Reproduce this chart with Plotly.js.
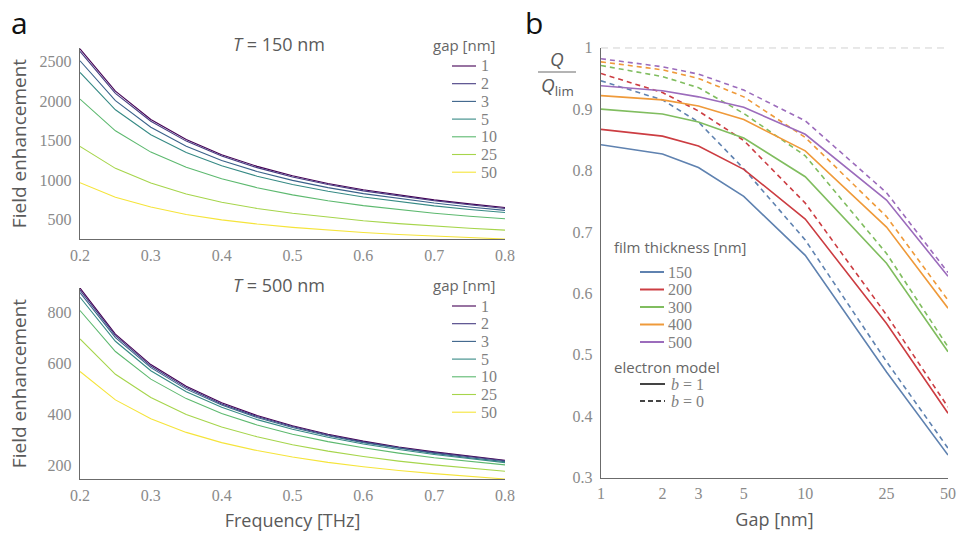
<!DOCTYPE html>
<html><head><meta charset="utf-8">
<script src="https://cdn.plot.ly/plotly-3.0.1.min.js"></script>
<style>html,body{margin:0;padding:0;background:#fff}#chart{width:957px;height:533px}</style>
</head><body><div id="chart"></div>
<script>
// ---------- data ----------
const freq = [0.2,0.25,0.3,0.35,0.4,0.45,0.5,0.55,0.6,0.65,0.7,0.75,0.8];
const gapLabels = ["1","2","3","5","10","25","50"];
const gapColors = ["#440154","#463b81","#3a628a","#368a85","#5db96f","#a6d54b","#f5e43a"];

// T = 150 nm field enhancement
const t150_g1  = [2660,2125,1768,1514,1323,1175,1056,959,879,811,752,701,656];
const t150_g2  = [2626,2097,1745,1494,1305,1159,1041,946,866,799,741,691,643];
const t150_g3  = [2509,2005,1670,1430,1250,1110,998,907,831,767,712,663,620];
const t150_g5  = [2361,1890,1575,1350,1182,1051,946,860,789,728,676,631,593];
const t150_g10 = [2025,1624,1355,1163,1018,906,815,742,680,628,584,545,513];
const t150_g25 = [1427,1150,964,826,723,644,584,532,488,452,420,393,370];
const t150_g50 = [968,785,661,568,500,447,405,370,340,315,293,274,258];

// T = 500 nm field enhancement
const t500_g1  = [894,714,595,510,446,396,356,323,296,273,254,237,221];
const t500_g2  = [886,708,589,505,441,392,353,320,293,270,251,234,219];
const t500_g3  = [876,700,583,499,437,388,349,317,290,268,248,231,216];
const t500_g5  = [858,686,571,489,428,380,342,311,285,263,244,227,212];
const t500_g10 = [806,646,538,462,404,359,323,294,270,249,231,216,203];
const t500_g25 = [695,557,466,400,351,313,282,257,236,218,203,190,178];
const t500_g50 = [568,457,383,330,290,259,234,213,196,181,169,158,148];

// Q / Q_lim vs gap
const gapNm = [1,2,3,5,10,25,50];
const thickLabels = ["150","200","300","400","500"];
const thickColors = ["#5f82b0","#cc3d42","#80bd5f","#ef9a3a","#9c6cbc"];
const b1_150 = [0.842,0.827,0.805,0.758,0.662,0.472,0.337];
const b1_200 = [0.867,0.856,0.840,0.802,0.721,0.551,0.405];
const b1_300 = [0.900,0.892,0.879,0.853,0.790,0.649,0.505];
const b1_400 = [0.922,0.915,0.905,0.883,0.832,0.708,0.576];
const b1_500 = [0.938,0.930,0.920,0.903,0.859,0.752,0.628];
const b0_150 = [0.946,0.915,0.879,0.803,0.687,0.489,0.348];
const b0_200 = [0.958,0.927,0.897,0.849,0.747,0.565,0.415];
const b0_300 = [0.971,0.953,0.935,0.893,0.824,0.665,0.513];
const b0_400 = [0.977,0.964,0.950,0.920,0.854,0.725,0.589];
const b0_500 = [0.982,0.969,0.957,0.931,0.881,0.764,0.634];
const qLimit = [1,1];
const qLimitX = [1,50];

// ---------- helpers ----------
const W = 957, H = 533;
const px = x => x / W;
const py = y => 1 - y / H;
const tickFont = {family: "Liberation Serif", size: 16, color: "#8a8a8a"};
const sansFont = (s, c) => ({family: "Open Sans", size: s, color: c || "#5a5a5a"});

const t150 = [t150_g1,t150_g2,t150_g3,t150_g5,t150_g10,t150_g25,t150_g50];
const t500 = [t500_g1,t500_g2,t500_g3,t500_g5,t500_g10,t500_g25,t500_g50];
const b1 = [b1_150,b1_200,b1_300,b1_400,b1_500];
const b0 = [b0_150,b0_200,b0_300,b0_400,b0_500];

const traces = [];
t150.forEach((ys, i) => traces.push({x: freq, y: ys, xaxis: "x", yaxis: "y", mode: "lines",
  line: {color: gapColors[i], width: 1.1}, name: gapLabels[i], showlegend: false}));
t500.forEach((ys, i) => traces.push({x: freq, y: ys, xaxis: "x2", yaxis: "y2", mode: "lines",
  line: {color: gapColors[i], width: 1.1}, name: gapLabels[i], showlegend: false}));
traces.push({x: qLimitX, y: qLimit, xaxis: "x3", yaxis: "y3", mode: "lines",
  line: {color: "#8c8c8c", width: 1, dash: "7px,5px"}, showlegend: false, name: "limit"});
b0.forEach((ys, i) => traces.push({x: gapNm, y: ys, xaxis: "x3", yaxis: "y3", mode: "lines",
  line: {color: thickColors[i], width: 1.6, dash: "5px,4px"}, name: thickLabels[i] + " b=0", showlegend: false}));
b1.forEach((ys, i) => traces.push({x: gapNm, y: ys, xaxis: "x3", yaxis: "y3", mode: "lines",
  line: {color: thickColors[i], width: 1.6}, name: thickLabels[i] + " b=1", showlegend: false}));

const baseAxis = {showline: true, linecolor: "#6b6b6b", linewidth: 1.3, ticks: "", showgrid: false,
  zeroline: false, tickfont: tickFont, fixedrange: true};

const freqTicks = [0.2,0.3,0.4,0.5,0.6,0.7,0.8];

const layout = {
  width: W, height: H, margin: {l: 0, r: 0, t: 0, b: 0},
  paper_bgcolor: "#fff", plot_bgcolor: "#fff", showlegend: false,
  xaxis: Object.assign({}, baseAxis, {domain: [px(80), px(505)], range: [0.2, 0.8], anchor: "y",
    tickvals: freqTicks, ticktext: freqTicks.map(v => v.toFixed(1)), ticklabelstandoff: 1}),
  yaxis: Object.assign({}, baseAxis, {domain: [py(239), py(48)], range: [258, 2670], anchor: "x",
    tickvals: [500,1000,1500,2000,2500], ticklabelstandoff: 4,
    title: {text: "Field enhancement", font: sansFont(19), standoff: 8}}),
  xaxis2: Object.assign({}, baseAxis, {domain: [px(80), px(505)], range: [0.2, 0.8], anchor: "y2",
    tickvals: freqTicks, ticktext: freqTicks.map(v => v.toFixed(1)), ticklabelstandoff: 1,
    title: {text: "Frequency [THz]", font: sansFont(18), standoff: 12}}),
  yaxis2: Object.assign({}, baseAxis, {domain: [py(479), py(288)], range: [148, 894], anchor: "x2",
    tickvals: [200,400,600,800], ticklabelstandoff: 4,
    title: {text: "Field enhancement", font: sansFont(19), standoff: 16}}),
  xaxis3: Object.assign({}, baseAxis, {domain: [px(601), px(948)], type: "log", range: [0, Math.log10(50)],
    anchor: "y3", tickvals: gapNm, ticktext: gapNm.map(String), ticklabelstandoff: 1,
    title: {text: "Gap [nm]", font: sansFont(18), standoff: 12}}),
  yaxis3: Object.assign({}, baseAxis, {domain: [py(477.7), py(47.7)], range: [0.3, 1.0], anchor: "x3",
    tickvals: [0.3,0.4,0.5,0.6,0.7,0.8,0.9,1.0], ticktext: ["0.3","0.4","0.5","0.6","0.7","0.8","0.9","1"],
    ticklabelstandoff: 4}),
  annotations: [],
  shapes: []
};

const ann = (text, x, y, font, xanchor, extra) => layout.annotations.push(Object.assign({
  text: text, xref: "paper", yref: "paper", x: px(x), y: py(y), showarrow: false,
  xanchor: xanchor || "center", yanchor: "middle", font: font}, extra || {}));

// panel labels
ann("a", 9, 22, {family: "Open Sans", size: 30, color: "#111"}, "left");
ann("b", 523, 22, {family: "Open Sans", size: 30, color: "#111"}, "left");
// subplot titles
ann("<i>T</i> = 150 nm", 279, 44, sansFont(18));
ann("<i>T</i> = 500 nm", 279, 285, sansFont(18));
// Q/Qlim fraction label
ann("<i>Q</i>", 557, 59, {family: "Open Sans", size: 19, color: "#5a5a5a"});
ann("<i>Q</i><sub>lim</sub>", 557, 86, {family: "Open Sans", size: 19, color: "#5a5a5a"});
layout.shapes.push({type: "line", xref: "paper", yref: "paper", x0: px(538), x1: px(576), y0: py(72), y1: py(72),
  line: {color: "#6b6b6b", width: 1.2}});

// manual legends for the gap panels
function gapLegend(titleY, firstY) {
  ann("gap [nm]", 431, titleY, sansFont(15, "#666"), "left");
  gapLabels.forEach((lab, i) => {
    const y = firstY + i * 17.7;
    layout.shapes.push({type: "line", xref: "paper", yref: "paper", x0: px(452), x1: px(476), y0: py(y), y1: py(y),
      line: {color: gapColors[i], width: 1.1}});
    ann(lab, 479, y, {family: "Liberation Serif", size: 16, color: "#808080"}, "left");
  });
}
gapLegend(45, 66);
gapLegend(285, 306);

// right legend
ann("film thickness [nm]", 612, 247, sansFont(15, "#666"), "left");
thickLabels.forEach((lab, i) => {
  const y = 272 + i * 17.5;
  layout.shapes.push({type: "line", xref: "paper", yref: "paper", x0: px(640), x1: px(664), y0: py(y), y1: py(y),
    line: {color: thickColors[i], width: 2}});
  ann(lab, 666, y, {family: "Liberation Serif", size: 16, color: "#808080"}, "left");
});
ann("electron model", 612, 367, sansFont(15, "#666"), "left");
layout.shapes.push({type: "line", xref: "paper", yref: "paper", x0: px(640), x1: px(665), y0: py(384), y1: py(384),
  line: {color: "#444", width: 2}});
layout.shapes.push({type: "line", xref: "paper", yref: "paper", x0: px(640), x1: px(665), y0: py(401), y1: py(401),
  line: {color: "#444", width: 2, dash: "5px,3px"}});
ann("<i>b</i> = 1", 669, 384, {family: "Liberation Serif", size: 16, color: "#808080"}, "left");
ann("<i>b</i> = 0", 669, 401, {family: "Liberation Serif", size: 16, color: "#808080"}, "left");

Plotly.newPlot("chart", traces, layout, {displayModeBar: false, staticPlot: true});
</script>
</body></html>
